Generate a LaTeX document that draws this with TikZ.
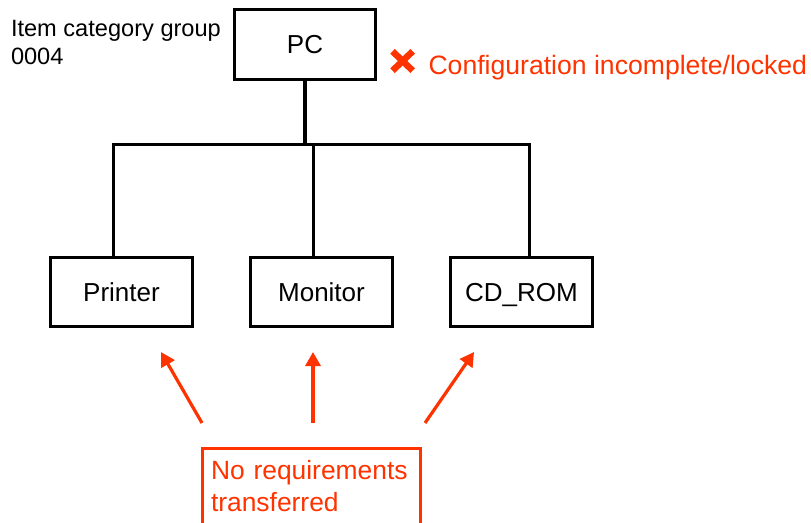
\documentclass[tikz,border=0pt]{standalone}
\usepackage{fontspec}
\setmainfont{Liberation Sans}
\usetikzlibrary{arrows.meta}
\definecolor{warnred}{RGB}{255,51,0}
\begin{document}
\begin{tikzpicture}[x=1pt,y=-1pt,
  itembox/.style={draw=black, line width=3.2pt, minimum width=142pt, minimum height=69pt,
    inner sep=0pt, outer sep=0pt, font=\fontsize{26}{31}\selectfont, text height=18.6pt, text depth=0pt},
  link/.style={line width=3.2pt, black, line join=miter},
  hint/.style={line width=3.2pt, warnred, -{Triangle[length=14pt,width=15pt]}},
  notetext/.style={text=warnred, align=left, text width=201pt, inner xsep=8.5pt, inner ysep=12pt,
    outer sep=0pt, font=\fontsize{26.4}{32}\selectfont},
  noteframe/.style={draw=warnred, line width=3.2pt},
  plain/.style={inner sep=0pt, outer sep=0pt},
  crossmark/.style={line width=6.5pt, warnred}
]
\useasboundingbox (0,0) rectangle (811,522);

% top node and labels
\node[itembox, minimum width=141pt, minimum height=70pt] (pc) at (305,44.5) {PC};
\node[plain, anchor=north west, align=left, font=\fontsize{23.6}{28}\selectfont] (group) at (11,20.2)
  {Item category group\\0004};
\node[plain, anchor=base west, text=warnred, font=\fontsize{26.6}{31}\selectfont] (status) at (428.5,74)
  {Configuration incomplete/locked};
\draw[crossmark] (392.5,51.3) -- (412.7,70.7);
\draw[crossmark] (392.5,70.7) -- (412.7,51.3);

% component nodes
\node[itembox] (printer) at (121.5,292) {Printer};
\node[itembox] (monitor) at (321.5,292) {Monitor};
\node[itembox] (cdrom) at (521.5,292) {CD\_ROM};

% tree connectors
\coordinate (busL) at (113.5,144.5);
\coordinate (busM) at (313.5,144.5);
\coordinate (busR) at (529.5,144.5);
\draw[link] (pc.south) -- (pc.south |- busM);
\draw[link] (busL |- printer.north) -- (busL) -- (busR) -- (busR |- cdrom.north);
\draw[link] (busM) -- (busM |- monitor.north);

% note
\node[notetext, anchor=north west] (note) at (202.5,448.5) {No requirements\\transferred};
\draw[noteframe] ([yshift=-40pt]note.south west) -- (note.north west) -- (note.north east)
  -- ([yshift=-40pt]note.south east);

% arrows
\coordinate (a1s) at (202,423);
\coordinate (a1e) at (161,352);
\coordinate (a2s) at (313,423);
\coordinate (a2e) at (313,352);
\coordinate (a3s) at (425,423);
\coordinate (a3e) at (474,352);
\draw[hint] (a1s) -- (a1e);
\draw[hint] (a2s) -- (a2e);
\draw[hint] (a3s) -- (a3e);
\end{tikzpicture}
\end{document}
